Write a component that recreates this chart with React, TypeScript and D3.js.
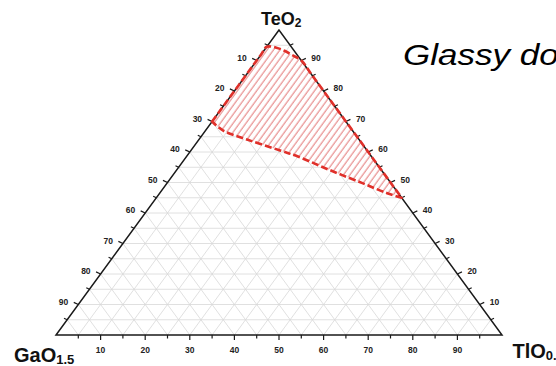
import React from "react";
import * as d3 from "d3";

// ---- data (percent) ----
const ticks = [5, 10, 15, 20, 25, 30, 35, 40, 45, 50, 55, 60, 65, 70, 75, 80, 85, 90, 95];
const majorLabels = [10, 20, 30, 40, 50, 60, 70, 80, 90];
// glassy domain boundary, [TeO2, TlO0.5]
const upperBoundary: [number, number][] = [
  [70, 0], [82, 0], [92, 0], [94.5, 0], [94.2, 2.3], [93.1, 4.8], [91.8, 7], [90, 10], [85, 15], [45, 55],
];
const lowerBoundary: [number, number][] = [
  [45, 55], [46.5, 51], [49.7, 44], [54, 34.5], [58.5, 25], [60.5, 20], [64, 11], [67, 4], [70, 0],
];

const W = 556, H = 366;
const x0 = 56, x1 = 502, yBase = 335, yTop = 30;
const xs = d3.scaleLinear().domain([0, 100]).range([x0, x1]);
const ys = d3.scaleLinear().domain([0, 100]).range([yBase, yTop]);
// t = TeO2, l = TlO0.5
const P = (t: number, l: number): [number, number] => [xs(l + t / 2), ys(t)];

export default function App() {
  const font = "'Liberation Sans', Arial, sans-serif";
  const grid: string[] = [];
  ticks.forEach((v) => {
    grid.push(`M${P(v, 0)}L${P(v, 100 - v)}`);
    grid.push(`M${P(0, v)}L${P(100 - v, v)}`);
    grid.push(`M${P(0, 100 - v)}L${P(100 - v, 0)}`);
  });
  const line = d3
    .line<[number, number]>()
    .x((d) => P(d[0], d[1])[0])
    .y((d) => P(d[0], d[1])[1])
    .curve(d3.curveCatmullRom.alpha(0.5));
  const up = line(upperBoundary) || "";
  const low = (line(lowerBoundary) || "").replace(/^M/, "L");
  const region = up + low + "Z";

  const dirL: [number, number] = [-0.905, -0.425];
  const dirR: [number, number] = [0.905, -0.425];

  return (
    <svg width={W} height={H} style={{ position: "absolute", left: 0, top: 0, background: "#fff" }} fontFamily={font}>
      <defs>
        <pattern id="hatch" patternUnits="userSpaceOnUse" width={5.2} height={10} patternTransform="rotate(36)">
          <rect width={5.2} height={10} fill="#fff" />
          <line x1={1} y1={0} x2={1} y2={10} stroke="#d84a4a" strokeWidth={0.8} />
        </pattern>
      </defs>
      <path d={grid.join("")} stroke="#d8d8d8" strokeWidth={0.8} fill="none" />
      <path d={region} fill="url(#hatch)" stroke="none" />
      <path
        d={`M${P(100, 0)}L${P(0, 0)}L${P(0, 100)}Z`}
        fill="none"
        stroke="#1a1a1a"
        strokeWidth={1.5}
      />
      {/* ticks */}
      {ticks.map((v) => {
        const major = v % 10 === 0;
        const len = major ? 5 : 3.5;
        const [bx, by] = P(0, v);
        const [lx, ly] = P(100 - v, 0);
        const [rx, ry] = P(v, 100 - v);
        return (
          <g key={v} stroke="#1a1a1a" strokeWidth={1.2}>
            <line x1={bx} y1={by} x2={bx} y2={by + len} />
            <line x1={lx} y1={ly} x2={lx + dirL[0] * len} y2={ly + dirL[1] * len} />
            <line x1={rx} y1={ry} x2={rx + dirR[0] * len} y2={ry + dirR[1] * len} />
          </g>
        );
      })}
      {majorLabels.map((v) => {
        const [bx, by] = P(0, v);
        const [lx, ly] = P(100 - v, 0);
        const [rx, ry] = P(v, 100 - v);
        return (
          <g key={"l" + v} fontSize={8.5} fontWeight="bold" fill="#222">
            <text x={bx} y={by + 18} textAnchor="middle">{v}</text>
            <text x={lx - 10} y={ly - 3} textAnchor="end" dominantBaseline="central">{v}</text>
            <text x={rx + 10} y={ry - 3} textAnchor="start" dominantBaseline="central">{v}</text>
          </g>
        );
      })}
      <path
        d={region}
        fill="none"
        stroke="#e0302a"
        strokeWidth={2.6}
        strokeDasharray="7 3"
        strokeLinejoin="round"
      />
      {/* corner labels */}
      <text x={261} y={25} fontSize={18} fontWeight="bold" fill="#111">
        TeO<tspan fontSize={12} dy={2}>2</tspan>
      </text>
      <text x={14} y={361.5} fontSize={20} fontWeight="bold" fill="#111">
        GaO<tspan fontSize={13} dy={2}>1.5</tspan>
      </text>
      <text x={512.5} y={357.5} fontSize={20} fontWeight="bold" fill="#111">
        TlO<tspan fontSize={13} dy={2}>0.5</tspan>
      </text>
      <text x={403} y={65} fontSize={35} fontStyle="italic" fill="#000" transform="translate(403,65) scale(1,0.82) translate(-403,-65)">
        Glassy domain
      </text>
    </svg>
  );
}
